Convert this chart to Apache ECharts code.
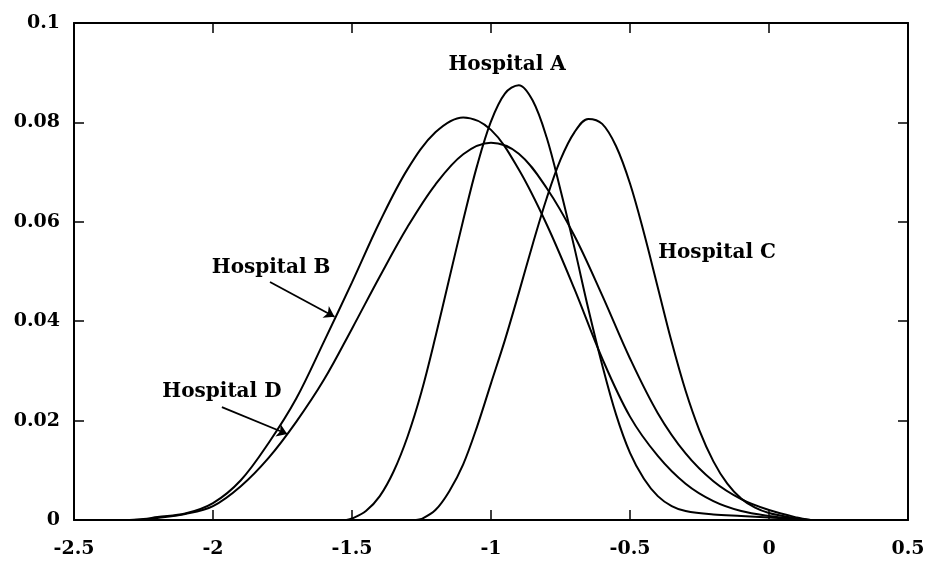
<!DOCTYPE html>
<html>
<head>
<meta charset="utf-8">
<script src="https://cdn.jsdelivr.net/npm/echarts@6/dist/echarts.min.js"></script>
<style>html,body{margin:0;padding:0;background:#fff}#c{width:928px;height:564px}</style>
</head>
<body>
<div id="c"></div>
<script>
// x ticks / y ticks
var xTicks = [-2.5, -2, -1.5, -1, -0.5, 0, 0.5];
var yTicks = [0, 0.02, 0.04, 0.06, 0.08, 0.1];

// Hospital A
var xA = [-1.52,-1.5,-1.45,-1.4,-1.35,-1.3,-1.25,-1.2,-1.15,-1.1,-1.05,-1.0,-0.95,-0.9,-0.85,-0.8,-0.75,-0.7,-0.65,-0.6,-0.55,-0.5,-0.45,-0.4,-0.35,-0.3,-0.2,-0.1,0,0.1,0.12];
var yA = [0,0.0003,0.0018,0.0048,0.0098,0.0168,0.0258,0.0368,0.0486,0.0603,0.0713,0.0802,0.0858,0.0875,0.0844,0.077,0.0664,0.0548,0.0425,0.0312,0.0212,0.0135,0.0083,0.0048,0.0028,0.0018,0.0011,0.0008,0.0005,0.0002,0];

// Hospital B
var xB = [-2.3,-2.25,-2.2,-2.1,-2.0,-1.9,-1.8,-1.7,-1.6,-1.5,-1.4,-1.3,-1.2,-1.1,-1.0,-0.9,-0.8,-0.7,-0.6,-0.5,-0.4,-0.3,-0.2,-0.1,0,0.1,0.15];
var yB = [0,0.0002,0.0006,0.0013,0.0034,0.008,0.0155,0.0245,0.036,0.0478,0.06,0.0706,0.078,0.081,0.0785,0.0705,0.0595,0.0465,0.0325,0.0208,0.0129,0.0073,0.0038,0.0018,0.0008,0.0002,0];

// Hospital C
var xC = [-1.27,-1.25,-1.2,-1.15,-1.1,-1.05,-1.0,-0.95,-0.9,-0.85,-0.8,-0.75,-0.7,-0.65,-0.6,-0.55,-0.5,-0.45,-0.4,-0.35,-0.3,-0.25,-0.2,-0.15,-0.1,-0.05,0,0.05,0.1,0.13];
var yC = [0,0.0002,0.002,0.0058,0.0112,0.0188,0.0275,0.0362,0.0457,0.0555,0.0647,0.0725,0.078,0.0807,0.0797,0.0752,0.0677,0.0578,0.0468,0.0358,0.026,0.018,0.0118,0.0073,0.0043,0.0025,0.0014,0.0008,0.0003,0];

// Hospital D
var xD = [-2.3,-2.25,-2.2,-2.1,-2.0,-1.9,-1.8,-1.7,-1.6,-1.5,-1.4,-1.3,-1.2,-1.1,-1.0,-0.9,-0.8,-0.7,-0.6,-0.5,-0.4,-0.3,-0.2,-0.1,0,0.1,0.15];
var yD = [0,0.0001,0.0004,0.0012,0.0028,0.0068,0.0125,0.0198,0.0283,0.0385,0.049,0.059,0.0675,0.0736,0.0759,0.0737,0.0668,0.0572,0.0452,0.0325,0.0215,0.0134,0.0078,0.0042,0.002,0.0005,0];

// annotation anchors (data units)
var labelNames = ['Hospital A', 'Hospital B', 'Hospital C', 'Hospital D'];
var labelPos = [[-0.942, 0.0915], [-1.791, 0.0507], [-0.187, 0.0537], [-1.968, 0.0258]];
var arrowB = [[-1.795, 0.0479], [-1.563, 0.0409]];
var arrowD = [[-1.968, 0.0227], [-1.733, 0.0173]];

function pairs(xs, ys) { return xs.map(function (x, i) { return [x, ys[i]]; }); }

var FONT = '"DejaVu Serif", serif';

function labelPoint(i) {
  return {
    symbol: 'circle', symbolSize: 0, silent: true,
    label: { show: true, position: 'inside', formatter: labelNames[i], color: '#000', fontFamily: FONT, fontWeight: 'bold', fontSize: 20 },
    data: [{ coord: labelPos[i] }]
  };
}
function arrowLine(a) {
  return {
    silent: true, symbol: ['none', 'arrow'], symbolSize: 10,
    lineStyle: { color: '#000', width: 1.8, type: 'solid' },
    itemStyle: { color: '#000' },
    label: { show: false },
    data: [[{ coord: a[0] }, { coord: a[1] }]]
  };
}

var lineStyle = { color: '#000', width: 2 };
function mkSeries(name, xs, ys, mp, ml) {
  var s = { name: name, type: 'line', data: pairs(xs, ys), smooth: 0.35, symbol: 'none',
    lineStyle: lineStyle, itemStyle: { color: '#000' }, z: 3 };
  if (mp) s.markPoint = mp;
  if (ml) s.markLine = ml;
  return s;
}

var axisLine = { show: true, onZero: false, lineStyle: { color: '#000', width: 2 } };
var axisTick = { show: true, inside: true, length: 10, lineStyle: { color: '#000', width: 1.5 } };

var chart = echarts.init(document.getElementById('c'), null, { renderer: 'canvas' });
chart.setOption({
  animation: false,
  backgroundColor: '#fff',
  grid: { left: 74, right: 20, top: 23, bottom: 44, containLabel: false },
  xAxis: [
    { type: 'value', position: 'bottom', min: xTicks[0], max: xTicks[xTicks.length - 1], interval: 0.5,
      axisLine: axisLine, axisTick: axisTick, splitLine: { show: false },
      axisLabel: { color: '#000', fontFamily: FONT, fontWeight: 'bold', fontSize: 19, margin: 20 } },
    { type: 'value', position: 'top', min: xTicks[0], max: xTicks[xTicks.length - 1], interval: 0.5,
      axisLine: axisLine, axisTick: axisTick, splitLine: { show: false }, axisLabel: { show: false } }
  ],
  yAxis: [
    { type: 'value', position: 'left', min: yTicks[0], max: yTicks[yTicks.length - 1], interval: 0.02,
      axisLine: axisLine, axisTick: axisTick, splitLine: { show: false },
      axisLabel: { color: '#000', fontFamily: FONT, fontWeight: 'bold', fontSize: 19, margin: 14,
        formatter: function (v) { return String(+v.toFixed(2)); } } },
    { type: 'value', position: 'right', min: yTicks[0], max: yTicks[yTicks.length - 1], interval: 0.02,
      axisLine: axisLine, axisTick: axisTick, splitLine: { show: false }, axisLabel: { show: false } }
  ],
  series: [
    mkSeries('Hospital A', xA, yA, labelPoint(0), null),
    mkSeries('Hospital B', xB, yB, labelPoint(1), arrowLine(arrowB)),
    mkSeries('Hospital C', xC, yC, labelPoint(2), null),
    mkSeries('Hospital D', xD, yD, labelPoint(3), arrowLine(arrowD))
  ]
});
</script>
</body>
</html>
